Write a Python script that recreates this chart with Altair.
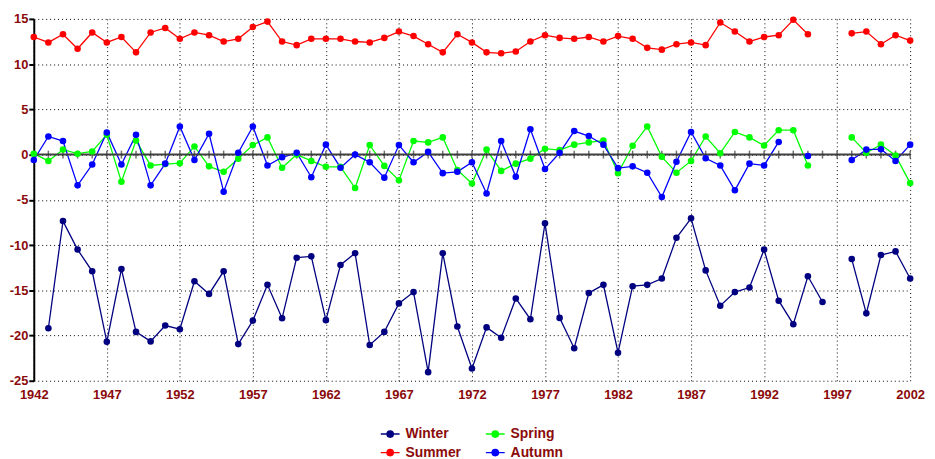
import altair as alt
import pandas as pd

YEARS = list(range(1942, 2003))
SEASONS = ["Winter", "Summer", "Spring", "Autumn"]
COLORS = ["#000080", "#FF0000", "#00FF00", "#0000FF"]
X_TICKS = [1942, 1947, 1952, 1957, 1962, 1967, 1972, 1977, 1982, 1987, 1992, 1997, 2002]
Y_TICKS = [-25, -20, -15, -10, -5, 0, 5, 10, 15]

winter = [
    None, -19.2, -7.35, -10.5, -12.9, -20.7, -12.65, -19.6, -20.65, -18.9,   # 1942-1951
    -19.3, -14.0, -15.4, -12.9, -20.95, -18.35, -14.4, -18.1, -11.4, -11.25,  # 1952-1961
    -18.3, -12.2, -10.9, -21.05, -19.6, -16.45, -15.2, -24.05, -10.9, -19.0,  # 1962-1971
    -23.65, -19.1, -20.25, -15.9, -18.2, -7.6, -18.05, -21.4, -15.3, -14.4,   # 1972-1981
    -21.9, -14.55, -14.4, -13.7, -9.2, -7.05, -12.8, -16.7, -15.2, -14.7,     # 1982-1991
    -10.5, -16.15, -18.75, -13.45, -16.3, None, -11.55, -17.55, -11.1, -10.7, # 1992-2001
    -13.7,                                                                    # 2002
]
summer = [
    13.0, 12.4, 13.3, 11.7, 13.5, 12.4, 13.0, 11.3, 13.5, 14.0,
    12.8, 13.5, 13.2, 12.5, 12.8, 14.1, 14.7, 12.5, 12.1, 12.8,
    12.8, 12.8, 12.5, 12.4, 12.9, 13.6, 13.1, 12.2, 11.3, 13.3,
    12.4, 11.3, 11.2, 11.4, 12.5, 13.2, 12.9, 12.8, 13.0, 12.5,
    13.1, 12.8, 11.8, 11.6, 12.2, 12.4, 12.1, 14.6, 13.6, 12.5,
    13.0, 13.2, 14.9, 13.3, None, None, 13.4, 13.6, 12.2, 13.2,
    12.6,
]
spring = [
    0.1, -0.7, 0.55, 0.1, 0.35, 2.2, -3.0, 1.55, -1.2, -1.05,
    -0.95, 0.9, -1.3, -1.9, -0.45, 1.05, 1.9, -1.45, 0.0, -0.7,
    -1.35, -1.35, -3.7, 1.05, -1.25, -2.85, 1.5, 1.35, 1.9, -1.7,
    -3.2, 0.55, -1.8, -1.0, -0.45, 0.65, 0.5, 1.1, 1.35, 1.55,
    -2.05, 0.98, 3.1, -0.25, -2.0, -0.7, 2.0, 0.15, 2.5, 1.9,
    1.0, 2.7, 2.7, -1.2, None, None, 1.9, 0.2, 1.1, -0.1,
    -3.15,
]
autumn = [
    -0.6, 2.0, 1.5, -3.4, -1.1, 2.45, -1.1, 2.2, -3.4, -1.0,
    3.1, -0.6, 2.3, -4.1, 0.2, 3.1, -1.2, -0.3, 0.2, -2.5,
    1.1, -1.45, 0.0, -0.85, -2.55, 1.05, -0.85, 0.3, -2.05, -1.9,
    -0.85, -4.3, 1.5, -2.45, 2.8, -1.6, 0.2, 2.6, 2.05, 1.1,
    -1.5, -1.3, -2.0, -4.7, -0.8, 2.5, -0.4, -1.2, -3.95, -1.0,
    -1.2, 1.4, None, -0.15, None, None, -0.6, 0.55, 0.6, -0.7,
    1.1,
]

rows = []
for name, vals in [("Winter", winter), ("Summer", summer), ("Spring", spring), ("Autumn", autumn)]:
    for yr, v in zip(YEARS, vals):
        rows.append({"year": yr, "season": name, "value": v})
df = pd.DataFrame(rows)

LABEL_COLOR = "#8B0A0A"
FONT = "Liberation Sans"

x_enc = alt.X(
    "year:Q",
    scale=alt.Scale(domain=[1942, 2002], nice=False, zero=False),
    axis=alt.Axis(
        values=X_TICKS, format="d", title=None, grid=True, gridDash=[1, 3],
        gridColor="black", gridWidth=1, domain=False, ticks=False,
        labelColor=LABEL_COLOR, labelFont=FONT, labelFontWeight="bold",
        labelFontSize=13, labelPadding=8, labelFlush=False,
    ),
)
y_enc = alt.Y(
    "value:Q",
    scale=alt.Scale(domain=[-25, 15], nice=False, zero=False),
    axis=alt.Axis(
        values=Y_TICKS, title=None, grid=True, gridDash=[1, 3], gridColor="black",
        gridWidth=1, domain=True, domainColor="black", domainWidth=2,
        ticks=True, tickColor="black", tickWidth=2, tickSize=5,
        labelColor=LABEL_COLOR, labelFont=FONT, labelFontWeight="bold",
        labelFontSize=13, labelPadding=1, labelExpr="'' + datum.value",
    ),
)

color_enc = alt.Color(
    "season:N",
    scale=alt.Scale(domain=SEASONS, range=COLORS),
    legend=alt.Legend(
        title=None, orient="none", legendX=349, legendY=408, columns=2,
        symbolType="M-1,0H1M-0.33,0A0.33,0.33,0,1,1,0.33,0A0.33,0.33,0,1,1,-0.33,0Z",
        symbolSize=361, symbolStrokeWidth=1.5,
        labelFont=FONT, labelFontSize=14, labelFontWeight="bold",
        labelColor=LABEL_COLOR, columnPadding=21, rowPadding=1, labelOffset=5,
    ),
)

base = alt.Chart(df)
lines = base.mark_line(strokeWidth=1.3, invalid="break-paths-filter-domains").encode(
    x=x_enc, y=y_enc, color=color_enc
)
points = base.mark_circle(size=44, opacity=1).encode(
    x="year:Q", y="value:Q", color=color_enc
)

zero_df = pd.DataFrame({"v": [0]})
zero_line = alt.Chart(zero_df).mark_rule(color="#404040", strokeWidth=2).encode(
    y="v:Q"
)
tick_df = pd.DataFrame({"year": YEARS, "v": [0] * len(YEARS)})
year_ticks = alt.Chart(tick_df).mark_tick(
    orient="vertical", size=8, thickness=1.5, color="#333333"
).encode(x="year:Q", y="v:Q")

chart = alt.layer(lines, zero_line, year_ticks, points).properties(
    width=884,
    height=365,
    autosize=alt.AutoSizeParams(type="none"),
    padding={"left": 26, "top": 9, "right": 17, "bottom": 84},
).configure_view(strokeWidth=0)

chart.save("out.html", embed_options={"renderer": "svg", "actions": False})
